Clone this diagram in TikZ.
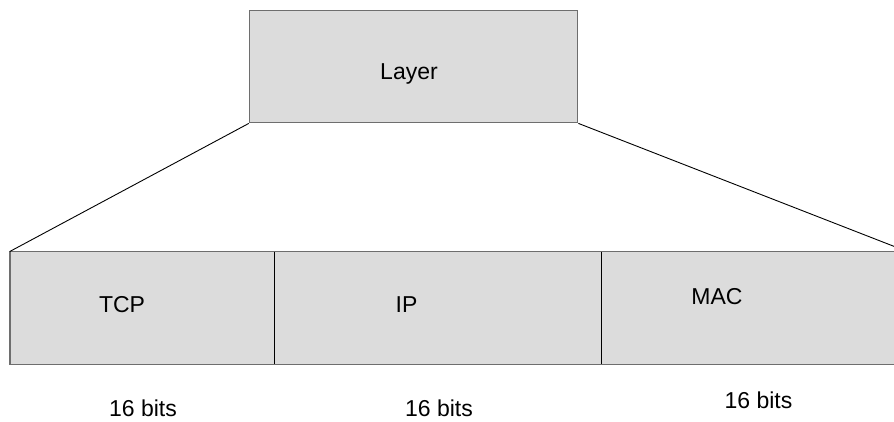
\documentclass[tikz,border=0pt]{standalone}
\usepackage{fontspec}
\setmainfont{Liberation Sans}
\begin{document}
\begin{tikzpicture}[x=1pt,y=-1pt,
  box/.style={rectangle,fill=boxgray,draw=edgegray,line width=1.4pt,inner sep=0pt},
  cell/.style={rectangle,fill=boxgray,inner sep=0pt,minimum height=112.3pt},
  lbl/.style={anchor=base,inner sep=0pt,font=\fontsize{23}{27}\selectfont},
  link/.style={draw=black,line width=0.9pt}]
\definecolor{boxgray}{HTML}{DCDCDC}
\definecolor{edgegray}{HTML}{6E6E6E}
\useasboundingbox (0,0) rectangle (894,421);
\clip (0,0) rectangle (894,421);

% upper block
\node[box,minimum width=328.2pt,minimum height=112pt] (layer) at (413.6,66.7) {};
\node[lbl] (layertxt) at (409,79.3) {Layer};

% field row
\node[cell,minimum width=263.7pt] (tcp) at (141.85,307.85) {};
\node[cell,minimum width=327.8pt] (ip) at (437.6,307.85) {};
\node[cell,minimum width=305.5pt] (mac) at (754.25,307.85) {};
\draw[edgegray,line width=1.4pt] (tcp.south west) rectangle (mac.north east);
\draw[black,line width=0.8pt] (tcp.north east) -- (tcp.south east);
\draw[black,line width=0.8pt] (ip.north east) -- (ip.south east);

% field names
\node[lbl] (tcptxt) at (122,312.3) {TCP};
\node[lbl] (iptxt) at (406.5,312.3) {IP};
\node[lbl] (mactxt) at (717,304.3) {MAC};

% field sizes
\node[lbl] (tcpbits) at (143,416.7) {16 bits};
\node[lbl] (ipbits) at (439,416.7) {16 bits};
\node[lbl] (macbits) at (758.5,408.3) {16 bits};

% fan-out connectors
\draw[link] (layer.south west) -- (tcp.north west);
\draw[link] (layer.south east) -- (mac.north east);
\end{tikzpicture}
\end{document}
